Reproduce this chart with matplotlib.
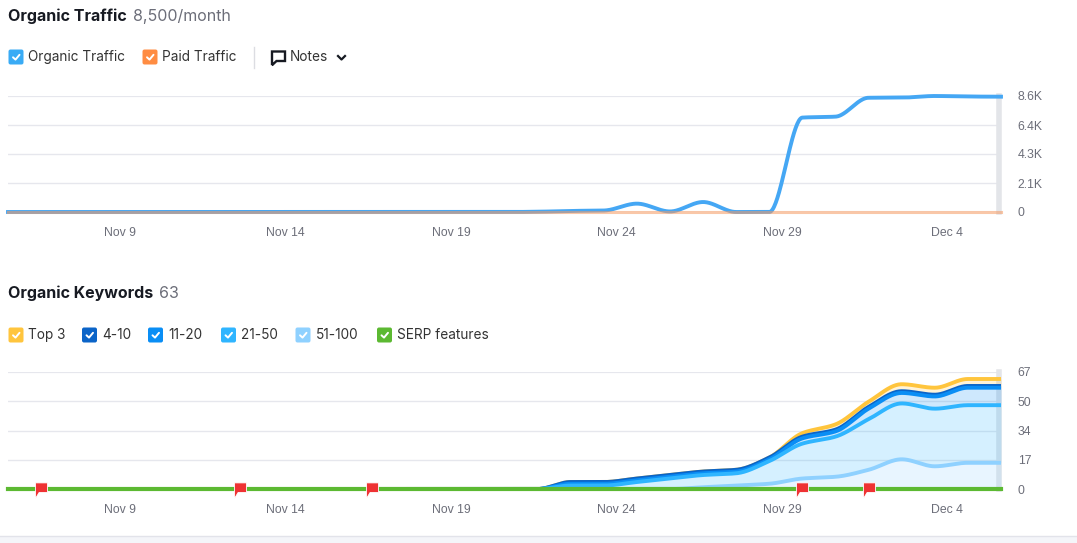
import matplotlib
matplotlib.use("Agg")
import matplotlib.pyplot as plt
from matplotlib.patches import FancyBboxPatch, Rectangle
from matplotlib.path import Path
import numpy as np

# data, one value per day (Nov 6 .. Dec 6)
organicTraffic = [0] * 16 + [20, 80, 110, 620, 40, 740, 0, 0, 7000, 7070, 8470, 8480, 8600, 8560, 8550]
paidTraffic = [0] * 31

top3 = [0] * 16 + [0, 0, 0, 0, 0, 0, 0, 0, 2, 3, 3, 4, 4, 4, 4]
pos4_10 = [0] * 16 + [0, 1, 1, 1, 1, 1, 1, 1, 1, 1, 1, 1, 1, 1, 1]
pos11_20 = [0] * 16 + [0, 1, 1, 1, 1, 1, 1, 1, 3, 3, 6, 6, 7, 10, 10]
pos21_50 = [0] * 16 + [0, 2, 2, 4, 6, 7, 7, 13, 20, 23, 29, 32, 33, 33, 33]
pos51_100 = [0] * 16 + [0, 0, 0, 0, 0, 1, 2, 3, 6, 7, 11, 17, 13, 15, 15]
serpFeatures = [0] * 31
noteDays = [1, 7, 11, 24, 26]   # days with a note flag

xLabels = ["Nov 9", "Nov 14", "Nov 19", "Nov 24", "Nov 29", "Dec 4"]
xLabelDays = [3, 8, 13, 18, 23, 28]
trafficTicks = [0, 2150, 4300, 6450, 8600]
trafficTickLabels = ["0", "2.1K", "4.3K", "6.4K", "8.6K"]
kwTicks = [0, 16.75, 33.5, 50.25, 67]
kwTickLabels = ["0", "17", "34", "50", "67"]

W, H = 1077, 543
gridCol = "#e6e7ed"
tickCol = "#6c6e79"
tickFont = "Liberation Sans"
uiFont = "Inter"


def pchip(x, y, xs):
    """monotone cubic interpolation, used only to draw the smooth lines"""
    x = np.asarray(x, float)
    y = np.asarray(y, float)
    h = np.diff(x)
    d = np.diff(y) / h
    m = np.zeros_like(y)
    m[0] = d[0]
    m[-1] = d[-1]
    for i in range(1, len(x) - 1):
        if d[i - 1] * d[i] > 0:
            w1 = 2 * h[i] + h[i - 1]
            w2 = h[i] + 2 * h[i - 1]
            m[i] = (w1 + w2) / (w1 / d[i - 1] + w2 / d[i])
    idx = np.clip(np.searchsorted(x, xs) - 1, 0, len(x) - 2)
    t = (xs - x[idx]) / h[idx]
    h00 = 2 * t**3 - 3 * t**2 + 1
    h10 = t**3 - 2 * t**2 + t
    h01 = -2 * t**3 + 3 * t**2
    h11 = t**3 - t**2
    return h00 * y[idx] + h10 * h[idx] * m[idx] + h01 * y[idx + 1] + h11 * h[idx] * m[idx + 1]


def pxAxes(fig, left, top, right, bottom):
    return fig.add_axes([left / W, 1 - bottom / H, (right - left) / W, (bottom - top) / H])


def styleAxes(ax, ticks, tickLabels, ymax):
    ax.set_xlim(0, 30)
    ax.set_ylim(0, ymax)
    for s in ax.spines.values():
        s.set_visible(False)
    for t in ticks:
        ax.axhline(t, color=gridCol, lw=1.6 if t == ticks[-1] else 1, zorder=0)
    ax.yaxis.tick_right()
    ax.set_yticks(ticks)
    ax.set_yticklabels(tickLabels)
    ax.set_xticks([d + 0.38 for d in xLabelDays])
    ax.set_xticklabels(xLabels)
    ax.tick_params(length=0, labelsize=8.8, labelcolor=tickCol)
    ax.tick_params(axis="y", pad=12)
    ax.tick_params(axis="x", pad=11)
    for lab in ax.get_xticklabels() + ax.get_yticklabels():
        lab.set_fontfamily(tickFont)
    # hover line at the last day
    ax.axvline(29.95, color="#e3e5e9", lw=4, zorder=0.5, clip_on=False)


def checkbox(ov, x, yc, color, label, size=15):
    box = FancyBboxPatch((x + 2, yc - size / 2 + 2), size - 4, size - 4,
                         boxstyle="round,pad=2", fc=color, ec="none")
    ov.add_patch(box)
    ov.plot([x + 4.5, x + 7, x + 11], [yc + 0.3, yc + 2.6, yc - 2.2], color="white", lw=1.4,
            solid_capstyle="round", solid_joinstyle="round")
    ov.text(x + size + 5, yc, label, fontsize=9.8, family=uiFont, color="#333333", va="center")


fig = plt.figure(figsize=(W / 100, H / 100), dpi=100)
ov = fig.add_axes([0, 0, 1, 1])
ov.set_xlim(0, W)
ov.set_ylim(H, 0)
ov.axis("off")

days = np.arange(31)
xs = np.linspace(0, 30, 1200)

# ---- organic traffic ----
ov.text(8, 16, "Organic Traffic", fontsize=11.5, weight="bold", family=uiFont, color="#171a22", va="center")
ov.text(133, 16, "8,500/month", fontsize=11.5, family=uiFont, color="#6c6e79", va="center")
checkbox(ov, 8.5, 57, "#39abf5", "Organic Traffic")
checkbox(ov, 142.5, 57, "#ff8c42", "Paid Traffic")
ov.plot([254, 254], [47, 68], color="#dcdde2", lw=1)
# notes icon
ov.plot([272, 272, 285, 285, 276.5, 272.8], [64, 51.5, 51.5, 61, 61, 64.5], color="#171a22", lw=1.7,
        solid_joinstyle="miter")
ov.text(290, 57, "Notes", fontsize=9.8, family=uiFont, color="#333333", va="center")
ov.plot([338, 341.5, 345], [56, 59.5, 56], color="#171a22", lw=1.6)

ax1 = pxAxes(fig, 8, 96, 1001, 212)
styleAxes(ax1, trafficTicks, trafficTickLabels, 8600)
ax1.plot(xs, pchip(days, organicTraffic, xs), color="#45a7f4", lw=2.8, clip_on=False, zorder=3)
ax1.plot(days, paidTraffic, color="#f59a62", alpha=0.55, lw=2.2, clip_on=False, zorder=4)

# ---- organic keywords ----
ov.text(8, 293, "Organic Keywords", fontsize=11.5, weight="bold", family=uiFont, color="#171a22", va="center")
ov.text(159, 293, "63", fontsize=11.5, family=uiFont, color="#6c6e79", va="center")
kwNames = ["Top 3", "4-10", "11-20", "21-50", "51-100", "SERP features"]
kwColors = ["#ffc53d", "#0b64c8", "#0a8ef5", "#2fb5ff", "#8fd1ff", "#5cb932"]
kwBoxX = [8.5, 82, 148, 221, 295.5, 377]
for name, col, bx in zip(kwNames, kwColors, kwBoxX):
    checkbox(ov, bx, 335, col, name)

ax2 = pxAxes(fig, 8, 372, 1001, 489)
styleAxes(ax2, kwTicks, kwTickLabels, 67)

# stacked from the bottom: 51-100, 21-50, 11-20, 4-10, top 3
stack = [pos51_100, pos21_50, pos11_20, pos4_10, top3]
stackColors = kwColors[4::-1]
cum = np.cumsum(np.array(stack, float), axis=0)
curves = [pchip(days, c, xs) for c in cum]
lower = np.zeros_like(xs)
for curve, col in zip(curves, stackColors):
    ax2.fill_between(xs, lower, np.maximum(curve, lower), color=col, alpha=0.2, lw=0, zorder=1)
    lower = np.maximum(curve, lower)
for i in range(len(curves) - 1, -1, -1):
    ax2.plot(xs, curves[i], color=stackColors[i], lw=2.8, zorder=3 + (len(curves) - i) * 0.1)
ax2.plot(days, serpFeatures, color="#5cb932", lw=3, clip_on=False, zorder=5)

flag = Path([(-1, -1.5), (-1, 1.1), (1, 1.1), (1, -0.5), (-0.4, -0.5), (-1, -1.5)])
ax2.plot(noteDays, [0] * len(noteDays), linestyle="none", marker=flag, markersize=13,
         markerfacecolor="#ee3233", markeredgecolor="white", markeredgewidth=0.6,
         clip_on=False, zorder=6)

# page edge at the bottom
ov.add_patch(Rectangle((0, 536), W, 7, fc="#f4f5f9", ec="none"))
ov.plot([0, W], [536, 536], color="#e2e3ea", lw=1)

fig.savefig("out.png", dpi=100)
